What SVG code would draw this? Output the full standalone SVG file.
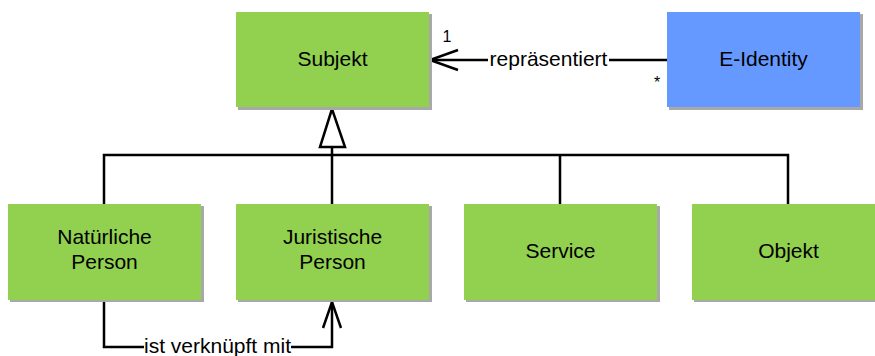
<svg xmlns="http://www.w3.org/2000/svg" width="875" height="356" viewBox="0 0 875 356">
  <defs>
    <style>
      .box { stroke: none; }
      .green { fill: #92d050; }
      .blue { fill: #6699ff; }
      .shadow { fill: #a8a8a8; }
      .label { font-family: "Liberation Sans", Arial, sans-serif; font-size: 21px; fill: #000; text-anchor: middle; }
      .small { font-family: "Liberation Sans", Arial, sans-serif; font-size: 16px; fill: #000; text-anchor: middle; }
      .line { fill: none; stroke: #000; stroke-width: 2.5; }
      .bg { fill: #fff; }
    </style>
  </defs>
  <rect width="875" height="356" fill="#fff"/>

  <!-- connectors -->
  <g id="connectors">
    <!-- generalization bus -->
    <path class="line" d="M104,204 V155 H788 V204"/>
    <path class="line" d="M332,155 V204"/>
    <path class="line" d="M560,155 V204"/>
    <path class="line" d="M332,147 V155"/>
    <polygon points="332,109 320,147 345,147" fill="#fff" stroke="#000" stroke-width="2.5" stroke-linejoin="miter"/>

    <!-- association: E-Identity represents Subjekt -->
    <path class="line" d="M430,60 H667"/>
    <path class="line" d="M458,50 L430,60 L458,70"/>
    <rect class="bg" x="488" y="48" width="121" height="22"/>
    <text class="label" x="548.5" y="66">repräsentiert</text>
    <text class="small" x="447" y="42">1</text>
    <text class="small" x="657" y="88">*</text>

    <!-- association: Natürliche Person linked with Juristische Person -->
    <path class="line" d="M104,301 V347 H332 V302"/>
    <path class="line" d="M323,328 L332,302 L341,328"/>
    <rect class="bg" x="144" y="336" width="147" height="20"/>
    <text class="label" x="217.5" y="353">ist verknüpft mit</text>
  </g>

  <g id="subjekt">
    <rect class="shadow" x="238" y="14" width="194" height="96"/>
    <rect class="box green" x="236" y="12" width="193" height="95"/>
    <text class="label" x="332.5" y="66">Subjekt</text>
  </g>

  <g id="e-identity">
    <rect class="shadow" x="669" y="14" width="194" height="96"/>
    <rect class="box blue" x="667" y="12" width="193" height="95"/>
    <text class="label" x="763.5" y="66">E-Identity</text>
  </g>

  <g id="natuerliche-person">
    <rect class="shadow" x="10" y="206" width="194" height="96"/>
    <rect class="box green" x="8" y="204" width="193" height="96"/>
    <text class="label" x="104.5" y="244">Natürliche</text>
    <text class="label" x="104.5" y="269">Person</text>
  </g>

  <g id="juristische-person">
    <rect class="shadow" x="238" y="206" width="194" height="96"/>
    <rect class="box green" x="236" y="204" width="193" height="96"/>
    <text class="label" x="332.5" y="244">Juristische</text>
    <text class="label" x="332.5" y="269">Person</text>
  </g>

  <g id="service">
    <rect class="shadow" x="466" y="206" width="194" height="96"/>
    <rect class="box green" x="464" y="204" width="193" height="96"/>
    <text class="label" x="560.5" y="258">Service</text>
  </g>

  <g id="objekt">
    <rect class="shadow" x="694" y="206" width="194" height="96"/>
    <rect class="box green" x="692" y="204" width="193" height="96"/>
    <text class="label" x="788.5" y="258">Objekt</text>
  </g>
</svg>
